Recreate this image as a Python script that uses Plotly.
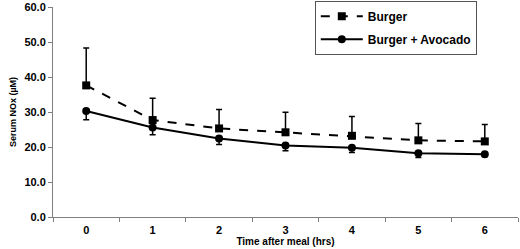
import plotly.graph_objects as go

hours = ["0", "1", "2", "3", "4", "5", "6"]
burger = [37.6, 27.7, 25.3, 24.2, 23.2, 21.9, 21.6]
burger_sd = [10.7, 6.2, 5.4, 5.7, 5.5, 4.8, 4.8]
avocado = [30.3, 25.6, 22.4, 20.4, 19.8, 18.2, 17.9]
avocado_sd = [2.5, 2.1, 1.7, 1.5, 1.4, 1.2, 0.6]

font_family = "Arial, Liberation Sans, sans-serif"
fig = go.Figure()
fig.add_trace(go.Scatter(
    x=hours, y=burger, name="Burger", mode="lines+markers", legendgroup="a",
    line=dict(color="black", width=2, dash="dash"),
    marker=dict(symbol="square", size=8, color="black"),
    error_y=dict(type="data", array=burger_sd, arrayminus=[0] * 7, symmetric=False,
                 color="black", thickness=1.5, width=3),
))
fig.add_trace(go.Scatter(
    x=hours, y=avocado, name="Burger + Avocado", mode="lines+markers", legendgroup="b",
    line=dict(color="black", width=2),
    marker=dict(symbol="circle", size=8, color="black"),
    error_y=dict(type="data", array=[0] * 7, arrayminus=avocado_sd, symmetric=False,
                 color="black", thickness=1.5, width=3),
))
fig.update_layout(
    width=520, height=249,
    margin=dict(l=53, r=2, t=7, b=32, autoexpand=False),
    paper_bgcolor="white", plot_bgcolor="white",
    font=dict(family=font_family, color="black", size=11, weight="bold"),
    showlegend=True,
    legend=dict(x=0.563, y=1.03, xanchor="left", yanchor="top",
                bordercolor="#555555", borderwidth=1, bgcolor="white",
                font=dict(size=12, family=font_family, weight="bold"),
                itemwidth=42, tracegroupgap=4, traceorder="grouped"),
    xaxis=dict(type="category", range=[-0.5, 6.5], tickson="boundaries", ticks="outside", ticklen=4,
               tickcolor="#808080", showline=True, linecolor="#808080", linewidth=1,
               showgrid=False, zeroline=False, ticklabelstandoff=3,
               tickfont=dict(size=11, weight="bold"),
               title=dict(text="Time after meal (hrs)", font=dict(size=10, weight="bold"), standoff=1)),
    yaxis=dict(range=[0, 60], dtick=10, tickformat=".1f", ticks="outside", ticklen=4,
               tickcolor="#808080", showline=True, linecolor="#808080", linewidth=1,
               showgrid=False, zeroline=False,
               tickfont=dict(size=11, weight="bold"),
               title=dict(text="Serum NOx (µM)", font=dict(size=9, weight="bold"), standoff=6)),
)
fig.write_html("out.html", config={"displayModeBar": False},
               post_script="document.body.style.margin='0';document.body.style.overflow='hidden';")
